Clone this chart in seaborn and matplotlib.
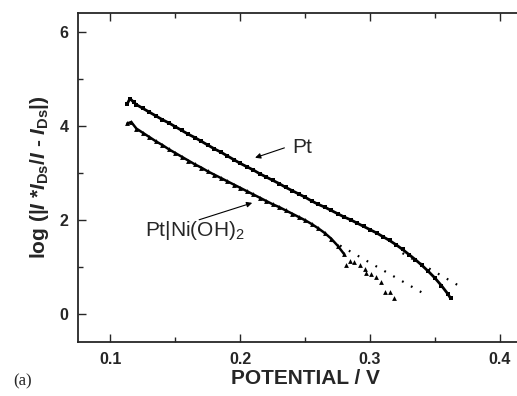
import numpy as np
import pandas as pd
import matplotlib
matplotlib.use("Agg")
import matplotlib.pyplot as plt
from matplotlib.ticker import MultipleLocator
import seaborn as sns

# ---- data ----
pt_x = [0.113, 0.115, 0.118, 0.120, 0.125, 0.130, 0.135, 0.140, 0.145, 0.150,
        0.155, 0.160, 0.165, 0.170, 0.175, 0.180, 0.185, 0.190, 0.195, 0.200,
        0.205, 0.210, 0.215, 0.220, 0.225, 0.230, 0.235, 0.240, 0.245, 0.250,
        0.255, 0.260, 0.265, 0.270, 0.275, 0.280, 0.285, 0.290, 0.295, 0.300,
        0.305, 0.310, 0.315, 0.320, 0.325, 0.330, 0.335, 0.340, 0.345, 0.350,
        0.355, 0.360, 0.362]
pt_y = [4.47, 4.58, 4.50, 4.45, 4.37, 4.29, 4.21, 4.13, 4.06, 3.98,
        3.90, 3.82, 3.75, 3.67, 3.59, 3.51, 3.44, 3.36, 3.28, 3.20,
        3.13, 3.06, 2.98, 2.91, 2.84, 2.77, 2.69, 2.62, 2.55, 2.48,
        2.40, 2.33, 2.27, 2.20, 2.13, 2.06, 2.00, 1.93, 1.86, 1.79,
        1.72, 1.64, 1.56, 1.47, 1.37, 1.26, 1.15, 1.03, 0.90, 0.76,
        0.60, 0.42, 0.33]

ni_x = [0.113, 0.116, 0.120, 0.125, 0.130, 0.135, 0.140, 0.145, 0.150, 0.155,
        0.160, 0.165, 0.170, 0.175, 0.180, 0.185, 0.190, 0.195, 0.200, 0.205,
        0.210, 0.215, 0.220, 0.225, 0.230, 0.235, 0.240, 0.245, 0.250, 0.255,
        0.260, 0.265, 0.270, 0.275, 0.280]
ni_y = [4.05, 4.08, 3.94, 3.85, 3.76, 3.67, 3.59, 3.50, 3.42, 3.34,
        3.26, 3.18, 3.11, 3.03, 2.96, 2.89, 2.82, 2.75, 2.68, 2.61,
        2.54, 2.47, 2.40, 2.33, 2.27, 2.20, 2.13, 2.06, 1.99, 1.91,
        1.82, 1.72, 1.60, 1.45, 1.27]
ni_tail_x = [0.2811, 0.2842, 0.2880, 0.2919, 0.2958, 0.2970, 0.3010, 0.3048,
             0.3087, 0.3112, 0.3151, 0.3182]
ni_tail_y = [1.04, 1.13, 1.11, 1.04, 0.95, 0.87, 0.85, 0.79,
             0.67, 0.47, 0.46, 0.33]

fit_pt_x = [0.325, 0.372]
fit_pt_y = [1.29, 0.54]
fit_ni_x = [0.270, 0.342]
fit_ni_y = [1.56, 0.42]

x_ticks = [0.1, 0.2, 0.3, 0.4]
y_ticks = [0, 2, 4, 6]

# ---- style ----
sns.set_style("ticks")
plt.rcParams["font.family"] = ["Liberation Sans", "DejaVu Sans"]
plt.rcParams["mathtext.fontset"] = "custom"
plt.rcParams["mathtext.rm"] = "Liberation Sans:bold"
plt.rcParams["mathtext.bf"] = "Liberation Sans:bold"
plt.rcParams["mathtext.it"] = "Liberation Sans:italic:bold"
plt.rcParams["mathtext.sf"] = "Liberation Sans"

fig = plt.figure(figsize=(5.17, 3.96), dpi=100)
ax = fig.add_axes([0.1509, 0.1364, 0.8787, 0.8308])

pt_df = pd.DataFrame({"x": pt_x, "y": pt_y})
ni_df = pd.DataFrame({"x": ni_x, "y": ni_y})
tail_df = pd.DataFrame({"x": ni_tail_x, "y": ni_tail_y})

sns.lineplot(data=pt_df, x="x", y="y", ax=ax, color="black", lw=2.0,
             marker="s", markersize=3, markeredgewidth=0, sort=False)
sns.lineplot(data=ni_df, x="x", y="y", ax=ax, color="black", lw=1.8,
             marker="^", markersize=3.5, markeredgewidth=0, sort=False)
sns.scatterplot(data=tail_df, x="x", y="y", ax=ax, color="black",
                marker="^", s=12, linewidth=0)

ax.plot(fit_pt_x, fit_pt_y, color="black", lw=1.6, linestyle=(0, (0.8, 3.8)))
ax.plot(fit_ni_x, fit_ni_y, color="black", lw=1.6, linestyle=(0, (0.8, 3.8)))

# annotations
ax.text(0.240, 3.54, "Pt", fontsize=15, va="center", ha="left")
ax.annotate("", xy=(0.2114, 3.32), xytext=(0.234, 3.53),
            arrowprops=dict(arrowstyle="-|>", color="black", lw=0.8,
                            mutation_scale=8, shrinkA=0, shrinkB=0))
ax.text(0.1265, 1.77, r"Pt|Ni(OH)$_{\mathsf{2}}$", fontsize=15,
        va="center", ha="left")
ax.annotate("", xy=(0.2092, 2.36), xytext=(0.1683, 2.00),
            arrowprops=dict(arrowstyle="-|>", color="black", lw=0.8,
                            mutation_scale=8, shrinkA=0, shrinkB=0))

ax.set_xlim(0.075, 0.425)
ax.set_ylim(-0.6, 6.4)
ax.set_xticks(x_ticks)
ax.set_xticklabels([f"{v:.1f}" for v in x_ticks])
ax.set_yticks(y_ticks)
ax.set_yticklabels([str(v) for v in y_ticks])
ax.xaxis.set_minor_locator(MultipleLocator(0.05))
ax.yaxis.set_minor_locator(MultipleLocator(1))

ax.tick_params(which="both", direction="in", top=True, right=True, width=1.0)
ax.tick_params(which="major", length=6, pad=7, labelsize=11.5)
ax.tick_params(which="minor", length=3.5)
for lab in ax.get_xticklabels() + ax.get_yticklabels():
    lab.set_fontweight("bold")
for sp in ax.spines.values():
    sp.set_linewidth(1.3)
    sp.set_visible(True)

ax.set_xlabel("POTENTIAL / V", fontsize=15, fontweight="bold", labelpad=2)
ax.set_ylabel(r"log (|$I$ *$I_{\mathrm{Ds}}$/$I$ - $I_{\mathrm{Ds}}$|)",
              fontsize=15, fontweight="bold", labelpad=6)

fig.text(0.025, 0.038, "(a)", fontsize=12, family="Liberation Serif",
         ha="left", va="center")

fig.savefig("out.png", dpi=100)
